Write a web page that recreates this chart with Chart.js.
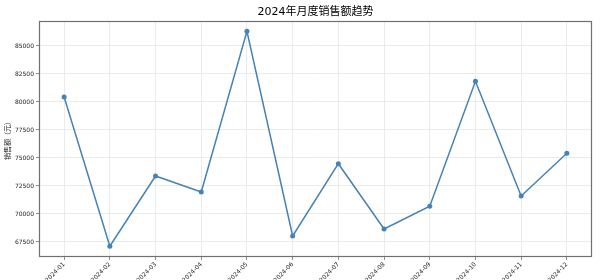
<!DOCTYPE html>
<html>
<head>
<title>2024年月度销售额趋势</title>
<script src="https://cdn.jsdelivr.net/npm/chart.js@4.4.1/dist/chart.umd.min.js"></script>
<style>
html, body { margin: 0; padding: 0; background: #ffffff; }
#wrap { width: 600px; height: 280px; }
</style>
</head>
<body>
<div id="wrap"><canvas id="line1" width="600" height="280"></canvas></div>
<script>
// data
var months = ['2024-01', '2024-02', '2024-03', '2024-04', '2024-05', '2024-06',
              '2024-07', '2024-08', '2024-09', '2024-10', '2024-11', '2024-12'];
var sales = [80450, 67120, 73390, 71960, 86310, 68040, 74490, 68660, 70690, 81850, 71610, 75420];
var yTicks = [67500, 70000, 72500, 75000, 77500, 80000, 82500, 85000];
var chartTitle = '2024年月度销售额趋势';
var yTitle = '销售额（元）';

var lineColor = '#4682b4';
var fontFam = '"DejaVu Sans", "Noto Sans CJK SC", sans-serif';

// title centred over the plot area, like the original
var titlePlugin = {
  id: 'plotTitle',
  afterDraw: function (chart) {
    var c = chart.ctx, a = chart.chartArea;
    c.save();
    c.fillStyle = '#000000';
    c.font = '11px ' + fontFam;
    c.textAlign = 'center';
    c.textBaseline = 'middle';
    c.fillText(chartTitle, (a.left + a.right) / 2, 12);
    c.restore();
  }
};

// frame round the plot
var framePlugin = {
  id: 'frame',
  afterDraw: function (chart) {
    var c = chart.ctx, a = chart.chartArea;
    c.save();
    c.strokeStyle = '#707070';
    c.lineWidth = 1.2;
    c.strokeRect(a.left + 0.5, a.top + 0.5, a.right - a.left - 1, a.bottom - a.top - 1);
    c.restore();
  }
};

var ctx = document.getElementById('line1').getContext('2d');
var chart = new Chart(ctx, {
  type: 'line',
  data: {
    datasets: [{
      label: '销售额',
      data: sales.map(function (v, i) { return { x: i, y: v }; }),
      borderColor: lineColor,
      backgroundColor: lineColor,
      borderWidth: 1.5,
      pointRadius: 2.5,
      pointBackgroundColor: lineColor,
      pointBorderWidth: 0,
      tension: 0
    }]
  },
  plugins: [titlePlugin, framePlugin],
  options: {
    responsive: false,
    animation: false,
    layout: { padding: { left: 4, right: 8, top: 21, bottom: 0 } },
    plugins: {
      legend: { display: false },
      title: { display: false },
      tooltip: { enabled: false }
    },
    scales: {
      x: {
        type: 'linear',
        min: -0.55,
        max: 11.55,
        afterBuildTicks: function (axis) {
          axis.ticks = months.map(function (m, i) { return { value: i }; });
        },
        afterFit: function (axis) { axis.height = 23; },
        ticks: {
          autoSkip: false,
          minRotation: 45,
          maxRotation: 45,
          padding: 1,
          color: '#222222',
          font: { family: fontFam, size: 6 },
          callback: function (v) { return months[v]; }
        },
        grid: {
          color: '#e6e6e6',
          lineWidth: 0.8,
          drawTicks: true,
          tickLength: 3,
          tickColor: '#707070'
        },
        border: { display: false }
      },
      y: {
        min: 66160,
        max: 87230,
        afterBuildTicks: function (axis) {
          axis.ticks = yTicks.map(function (v) { return { value: v }; });
        },
        afterFit: function (axis) { axis.width = 35; },
        ticks: {
          padding: 2,
          color: '#222222',
          font: { family: fontFam, size: 6 },
          callback: function (v) { return String(v); }
        },
        title: {
          display: true,
          text: yTitle,
          color: '#222222',
          padding: { top: 0, bottom: 0 },
          font: { family: fontFam, size: 7 }
        },
        grid: {
          color: '#e6e6e6',
          lineWidth: 0.8,
          drawTicks: true,
          tickLength: 3,
          tickColor: '#707070'
        },
        border: { display: false }
      }
    }
  }
});
</script>
</body>
</html>
